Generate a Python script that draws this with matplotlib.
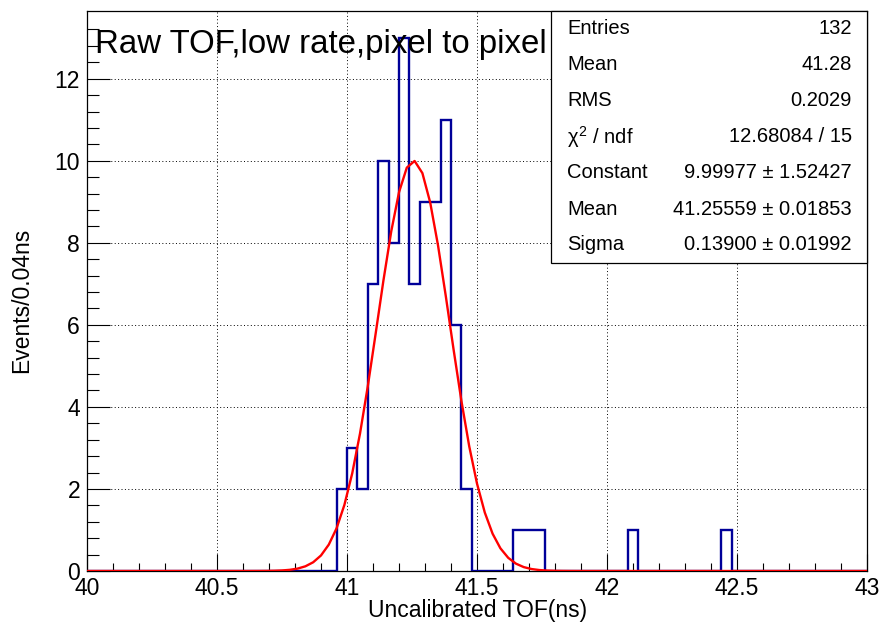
import matplotlib
matplotlib.use("Agg")
import matplotlib.pyplot as plt
import numpy as np

plt.rcParams['font.family'] = ['Liberation Sans', 'DejaVu Sans']
plt.rcParams['mathtext.fontset'] = 'custom'
plt.rcParams['mathtext.rm'] = 'Liberation Sans'
plt.rcParams['mathtext.it'] = 'Liberation Sans'

# histogram: 75 bins of 0.04 ns between 40 and 43 ns
x_min, x_max, n_bins = 40.0, 43.0, 75
counts = [0, 0, 0, 0, 0, 0, 0, 0, 0, 0,
          0, 0, 0, 0, 0, 0, 0, 0, 0, 0,
          0, 0, 0, 0, 2, 3, 2, 7, 10, 8,
          13, 7, 9, 9, 11, 6, 2, 0, 0, 0,
          0, 1, 1, 1, 0, 0, 0, 0, 0, 0,
          0, 0, 1, 0, 0, 0, 0, 0, 0, 0,
          0, 1, 0, 0, 0, 0, 0, 0, 0, 0,
          0, 0, 0, 0, 0]

# gaus fit result
fit_const = 9.99977
fit_mean = 41.25559
fit_sigma = 0.13900

stat_names = ["Entries", "Mean", "RMS", r"$\chi^{2}$ / ndf", "Constant", "Mean", "Sigma"]
stat_values = ["132", "41.28", "0.2029", "12.68084 / 15",
               "9.99977 \u00b1 1.52427", "41.25559 \u00b1 0.01853", "0.13900 \u00b1 0.01992"]

W, H = 881, 626
fig = plt.figure(figsize=(W / 100, H / 100), dpi=100)
ax = fig.add_axes([87 / W, 1 - 571 / H, (867 - 87) / W, (571 - 11) / H])

edges = np.linspace(x_min, x_max, n_bins + 1)
ax.stairs(counts, edges, color='#000099', lw=1.7, baseline=0, zorder=3)

xf = np.linspace(x_min, x_max, 101)
yf = fit_const * np.exp(-0.5 * ((xf - fit_mean) / fit_sigma) ** 2)
ax.plot(xf, yf, color='red', lw=1.7, zorder=4)

ax.set_xlim(x_min, x_max)
ax.set_ylim(0, max(counts) * 1.05)
ax.set_xticks(np.arange(40, 43.01, 0.5))
ax.set_xticklabels(["40", "40.5", "41", "41.5", "42", "42.5", "43"])
ax.set_xticks(np.arange(40, 43.01, 0.1), minor=True)
ax.set_yticks(np.arange(0, 13, 2))
ax.set_yticks(np.arange(0, 13.6, 0.4), minor=True)

ax.grid(True, which='major', color='black', ls=(0, (1, 2.5)), lw=0.7, zorder=0)
ax.tick_params(which='both', direction='in', labelsize=16.5, width=0.8)
ax.tick_params(axis='x', which='major', length=12, pad=4)
ax.tick_params(axis='x', which='minor', length=6)
ax.tick_params(axis='y', which='major', length=16.5, pad=5)
ax.tick_params(axis='y', which='minor', length=8.4)
for s in ax.spines.values():
    s.set_linewidth(0.9)

fig.text(478 / W, 1 - 611 / H, "Uncalibrated TOF(ns)", fontsize=16.5,
         ha='center', va='center')
fig.text(22 / W, 1 - 300 / H, "Events/0.04ns", rotation=90, fontsize=16.5,
         ha='center', va='center')

# title pave
fig.text(95 / W, 1 - 44 / H, "Raw TOF,low rate,pixel to pixel", fontsize=23.8,
         ha='left', va='center')

# stats box
bx0, bx1, by0, by1 = 551, 867, 11, 263
box = plt.Rectangle((bx0 / W, 1 - by1 / H), (bx1 - bx0) / W, (by1 - by0) / H,
                    transform=fig.transFigure, facecolor='white', edgecolor='black',
                    lw=0.9, zorder=5)
fig.add_artist(box)
row_h = (by1 - by0) / len(stat_names)
for i, (name, val) in enumerate(zip(stat_names, stat_values)):
    yc = 1 - (by0 + row_h * (i + 0.5)) / H
    t1 = fig.text(567 / W, yc, name, fontsize=14.5, ha='left', va='center')
    t2 = fig.text(852 / W, yc, val, fontsize=14.5, ha='right', va='center')
    t1.set_zorder(6)
    t2.set_zorder(6)

fig.savefig("out.png", dpi=100)
